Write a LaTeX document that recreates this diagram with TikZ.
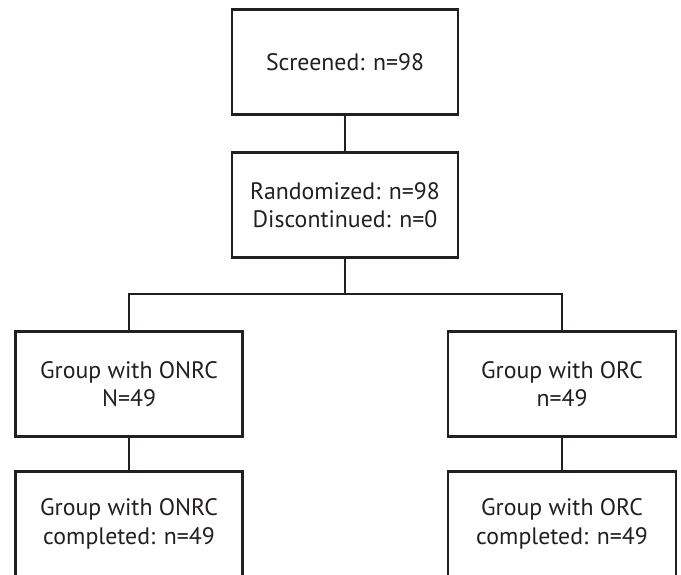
\documentclass[tikz,border=0pt]{standalone}
\usepackage{fontspec}
\setmainfont{PT Sans}
\usepackage{tikz}
\usetikzlibrary{positioning}
\definecolor{inkdark}{RGB}{35, 31, 32}

\tikzset{
  flowbox/.style={draw=inkdark, line width=2.8pt, fill=white, align=center,
                  minimum height=105pt, inner sep=0pt, text=inkdark,
                  font=\fontsize{23.8}{28.5}\selectfont},
  flowline/.style={draw=inkdark, line width=2.8pt}
}

\begin{document}
\begin{tikzpicture}[x=1pt, y=-1pt]
    \clip (0,0) rectangle (681,574);
    \fill[white] (0,0) rectangle (681,574);
    \node[flowbox, minimum width=226pt] (screened) at (345, 62)   {Screened: n=98};
    \node[flowbox, minimum width=226pt] (random)   at (345, 205)  {Randomized: n=98\\Discontinued: n=0};
    \node[flowbox, minimum width=227pt] (onrc)     at (129, 384)  {Group with ONRC\\N=49};
    \node[flowbox, minimum width=228pt] (orc)      at (562, 384)  {Group with ORC\\n=49};
    \node[flowbox, minimum width=227pt, anchor=north] (onrcdone) at (129, 470) {Group with ONRC\\completed: n=49};
    \node[flowbox, minimum width=228pt, anchor=north] (orcdone)  at (562, 470) {Group with ORC\\completed: n=49};
    \coordinate (split) at (345, 294);
    \draw[flowline] (screened.south) -- (random.north);
    \draw[flowline] (random.south) -- (split);
    \draw[flowline] (split) -| (onrc.north);
    \draw[flowline] (split) -| (orc.north);
    \draw[flowline] (onrc.south) -- (onrcdone.north);
    \draw[flowline] (orc.south) -- (orcdone.north);
\end{tikzpicture}
\end{document}
